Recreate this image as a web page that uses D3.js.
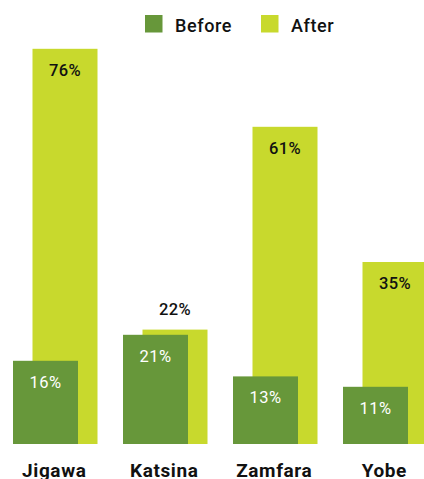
<!DOCTYPE html>
<html>
<head>
<meta charset="utf-8">
<script src="https://cdn.jsdelivr.net/npm/d3@7"></script>
<style>
  html, body { margin: 0; padding: 0; background: #fff; }
  svg { display: block; font-family: Roboto, "Noto Sans", sans-serif; }
</style>
</head>
<body>
<svg id="chart" width="424" height="479"></svg>
<script>
// States and the share (%) before and after the intervention
const categories = ["Jigawa", "Katsina", "Zamfara", "Yobe"];
const beforeValues = [16, 21, 13, 11];
const afterValues = [76, 22, 61, 35];
const seriesNames = ["Before", "After"];
const seriesColors = ["#67973a", "#c8d92d"];

const svg = d3.select("#chart");

const x = d3.scaleBand()
  .domain(categories)
  .range([13, 453])
  .padding(0);

const y = d3.scaleLinear()
  .domain([0, 80])
  .range([444, 28]);

const barW = 65;
const afterOffset = 19.5;

const rows = categories.map((c, i) => ({ c, before: beforeValues[i], after: afterValues[i] }));

// "After" bars sit behind, shifted right
svg.append("g").selectAll("rect")
  .data(rows).join("rect")
  .attr("x", d => x(d.c) + afterOffset)
  .attr("y", d => y(d.after))
  .attr("width", barW)
  .attr("height", d => y(0) - y(d.after))
  .attr("fill", seriesColors[1]);

// "Before" bars in front
svg.append("g").selectAll("rect")
  .data(rows).join("rect")
  .attr("x", d => x(d.c))
  .attr("y", d => y(d.before))
  .attr("width", barW)
  .attr("height", d => y(0) - y(d.before))
  .attr("fill", seriesColors[0]);

// Value labels for "After": inside the bar unless the front bar covers it
svg.append("g").selectAll("text")
  .data(rows).join("text")
  .attr("x", d => x(d.c) + afterOffset + barW / 2)
  .attr("y", d => (y(d.before) - y(d.after) > 40) ? y(d.after) + 27 : y(d.after) - 15)
  .attr("text-anchor", "middle")
  .attr("font-size", 16.5)
  .attr("font-weight", 500)
  .attr("letter-spacing", 0.4)
  .attr("fill", "#111")
  .text(d => d.after + "%");

// Value labels for "Before"
svg.append("g").selectAll("text")
  .data(rows).join("text")
  .attr("x", d => x(d.c) + barW / 2)
  .attr("y", d => y(d.before) + 27)
  .attr("text-anchor", "middle")
  .attr("font-size", 16.5)
  .attr("font-weight", 400)
  .attr("letter-spacing", 0.4)
  .attr("fill", "#fff")
  .text(d => d.before + "%");

// Category axis (labels only), centred under each bar pair
const groupCenter = (barW + afterOffset) / 2 - 1;
const xAxis = d3.axisBottom(x).tickSize(0).tickPadding(0);
const gx = svg.append("g")
  .attr("transform", `translate(${groupCenter - x.bandwidth() / 2},477)`)
  .call(xAxis);
gx.select(".domain").remove();
gx.selectAll("text")
  .attr("font-size", 19)
  .attr("font-weight", 700)
  .attr("letter-spacing", 0.6)
  .attr("fill", "#111")
  .attr("font-family", "Roboto, sans-serif")
  .attr("y", 0)
  .attr("dy", 0);

// Legend
const legendX = [145, 261];
const legend = svg.append("g").selectAll("g")
  .data(seriesNames).join("g")
  .attr("transform", (d, i) => `translate(${legendX[i]},15)`);
legend.append("rect")
  .attr("width", 17.5)
  .attr("height", 17.5)
  .attr("fill", (d, i) => seriesColors[i]);
legend.append("text")
  .attr("x", 30)
  .attr("y", 16.5)
  .attr("font-size", 18)
  .attr("font-weight", 500)
  .attr("letter-spacing", 0.6)
  .attr("fill", "#111")
  .text(d => d);
</script>
</body>
</html>
